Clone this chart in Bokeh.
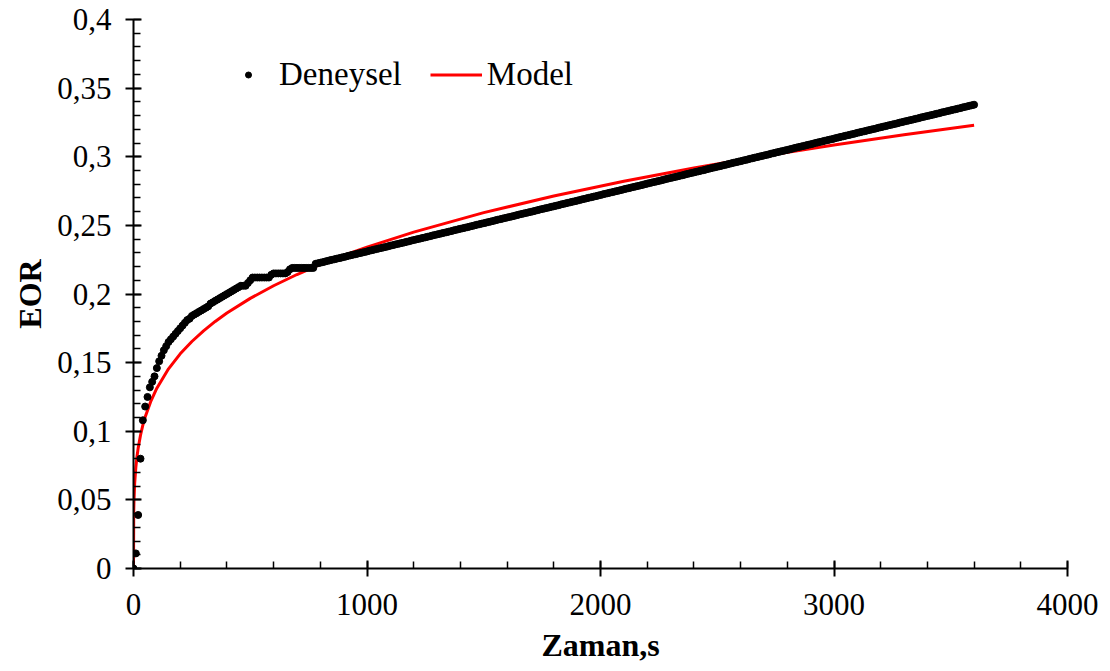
from bokeh.plotting import figure
from bokeh.models import Range1d, FixedTicker, Legend, LegendItem
from bokeh.embed import file_html
from bokeh.resources import INLINE

# ---- data -------------------------------------------------------------
# experimental samples, one every 10 s from 0 to 3600 s
zaman_s = list(range(0, 3610, 10))

# EOR, t = 0 ... 780 s
eor_early = [
    0.000, 0.011, 0.039, 0.080, 0.108, 0.118, 0.125, 0.132, 0.136, 0.140,
    0.146, 0.151, 0.155, 0.159, 0.162, 0.165, 0.167, 0.169, 0.171, 0.173,
    0.175, 0.177, 0.179, 0.181, 0.182, 0.184, 0.185, 0.186, 0.187, 0.188,
    0.189, 0.190, 0.191, 0.193, 0.194, 0.195, 0.196, 0.197, 0.198, 0.199,
    0.200, 0.201, 0.202, 0.203, 0.204, 0.205, 0.206, 0.206, 0.206, 0.208,
    0.210, 0.212, 0.212, 0.212, 0.212, 0.212, 0.212, 0.212, 0.212, 0.214,
    0.215, 0.215, 0.215, 0.215, 0.215, 0.215, 0.216, 0.218, 0.219, 0.219,
    0.219, 0.219, 0.219, 0.219, 0.219, 0.219, 0.219, 0.219, 0.222,
]

# EOR, t = 790 ... 3600 s
eor_late = [
    0.2224, 0.2228, 0.2232, 0.2236, 0.2241, 0.2245, 0.2249, 0.2253, 0.2257, 0.2261,
    0.2265, 0.2269, 0.2273, 0.2278, 0.2282, 0.2286, 0.2290, 0.2294, 0.2298, 0.2302,
    0.2306, 0.2310, 0.2315, 0.2319, 0.2323, 0.2327, 0.2331, 0.2335, 0.2339, 0.2343,
    0.2347, 0.2352, 0.2356, 0.2360, 0.2364, 0.2368, 0.2372, 0.2376, 0.2380, 0.2384,
    0.2389, 0.2393, 0.2397, 0.2401, 0.2405, 0.2409, 0.2413, 0.2417, 0.2421, 0.2426,
    0.2430, 0.2434, 0.2438, 0.2442, 0.2446, 0.2450, 0.2454, 0.2458, 0.2463, 0.2467,
    0.2471, 0.2475, 0.2479, 0.2483, 0.2487, 0.2491, 0.2495, 0.2500, 0.2504, 0.2508,
    0.2512, 0.2516, 0.2520, 0.2524, 0.2528, 0.2532, 0.2537, 0.2541, 0.2545, 0.2549,
    0.2553, 0.2557, 0.2561, 0.2565, 0.2569, 0.2574, 0.2578, 0.2582, 0.2586, 0.2590,
    0.2594, 0.2598, 0.2602, 0.2606, 0.2611, 0.2615, 0.2619, 0.2623, 0.2627, 0.2631,
    0.2635, 0.2639, 0.2643, 0.2647, 0.2652, 0.2656, 0.2660, 0.2664, 0.2668, 0.2672,
    0.2676, 0.2680, 0.2684, 0.2689, 0.2693, 0.2697, 0.2701, 0.2705, 0.2709, 0.2713,
    0.2717, 0.2721, 0.2726, 0.2730, 0.2734, 0.2738, 0.2742, 0.2746, 0.2750, 0.2754,
    0.2758, 0.2763, 0.2767, 0.2771, 0.2775, 0.2779, 0.2783, 0.2787, 0.2791, 0.2795,
    0.2800, 0.2804, 0.2808, 0.2812, 0.2816, 0.2820, 0.2824, 0.2828, 0.2832, 0.2837,
    0.2841, 0.2845, 0.2849, 0.2853, 0.2857, 0.2861, 0.2865, 0.2869, 0.2874, 0.2878,
    0.2882, 0.2886, 0.2890, 0.2894, 0.2898, 0.2902, 0.2906, 0.2911, 0.2915, 0.2919,
    0.2923, 0.2927, 0.2931, 0.2935, 0.2939, 0.2943, 0.2948, 0.2952, 0.2956, 0.2960,
    0.2964, 0.2968, 0.2972, 0.2976, 0.2980, 0.2985, 0.2989, 0.2993, 0.2997, 0.3001,
    0.3005, 0.3009, 0.3013, 0.3017, 0.3022, 0.3026, 0.3030, 0.3034, 0.3038, 0.3042,
    0.3046, 0.3050, 0.3054, 0.3058, 0.3063, 0.3067, 0.3071, 0.3075, 0.3079, 0.3083,
    0.3087, 0.3091, 0.3095, 0.3100, 0.3104, 0.3108, 0.3112, 0.3116, 0.3120, 0.3124,
    0.3128, 0.3132, 0.3137, 0.3141, 0.3145, 0.3149, 0.3153, 0.3157, 0.3161, 0.3165,
    0.3169, 0.3174, 0.3178, 0.3182, 0.3186, 0.3190, 0.3194, 0.3198, 0.3202, 0.3206,
    0.3211, 0.3215, 0.3219, 0.3223, 0.3227, 0.3231, 0.3235, 0.3239, 0.3243, 0.3248,
    0.3252, 0.3256, 0.3260, 0.3264, 0.3268, 0.3272, 0.3276, 0.3280, 0.3285, 0.3289,
    0.3293, 0.3297, 0.3301, 0.3305, 0.3309, 0.3313, 0.3317, 0.3322, 0.3326, 0.3330,
    0.3334, 0.3338, 0.3342, 0.3346, 0.3350, 0.3354, 0.3359, 0.3363, 0.3367, 0.3371,
    0.3375, 0.3379,
]
deneysel_eor = eor_early + eor_late

# model curve
model_t = [0, 1, 2, 5, 10, 15, 20, 30, 40, 50, 75, 100, 150, 200, 250, 300, 350,
           400, 500, 600, 700, 800, 900, 1000, 1200, 1500, 1800, 2100, 2400,
           2700, 3000, 3300, 3600]
model_eor = [0.0, 0.0414, 0.0492, 0.0620, 0.0737, 0.0816, 0.0877, 0.0971, 0.1044,
             0.1104, 0.1222, 0.1314, 0.1455, 0.1564, 0.1654, 0.1731, 0.1800,
             0.1861, 0.1968, 0.2060, 0.2142, 0.2215, 0.2281, 0.2342, 0.2451,
             0.2593, 0.2714, 0.2822, 0.2918, 0.3005, 0.3085, 0.3161, 0.3230]

# axis ticks and labels
x_ticks = [0, 1000, 2000, 3000, 4000]
x_minor = [0, 200, 400, 600, 800, 1000, 1200, 1400, 1600, 1800, 2000, 2200, 2400,
           2600, 2800, 3000, 3200, 3400, 3600, 3800, 4000]
y_ticks = [0.0, 0.05, 0.1, 0.15, 0.2, 0.25, 0.3, 0.35, 0.4]
y_tick_labels = ["0", "0,05", "0,1", "0,15", "0,2", "0,25", "0,3", "0,35", "0,4"]
y_minor = [0.0, 0.01, 0.02, 0.03, 0.04, 0.05, 0.06, 0.07, 0.08, 0.09, 0.1, 0.11,
           0.12, 0.13, 0.14, 0.15, 0.16, 0.17, 0.18, 0.19, 0.2, 0.21, 0.22, 0.23,
           0.24, 0.25, 0.26, 0.27, 0.28, 0.29, 0.3, 0.31, 0.32, 0.33, 0.34, 0.35,
           0.36, 0.37, 0.38, 0.39, 0.4]

# ---- figure -----------------------------------------------------------
FONT = "Liberation Serif"

p = figure(width=1110, height=671,
           x_range=Range1d(0, 4000), y_range=Range1d(0, 0.4),
           output_backend="svg", toolbar_location=None,
           min_border_left=133, min_border_right=43,
           min_border_top=19, min_border_bottom=103)

p.xgrid.visible = False
p.ygrid.visible = False
p.outline_line_color = None
p.background_fill_color = "white"
p.border_fill_color = "white"

r_model = p.line(model_t, model_eor, line_color="#ff0000", line_width=3)
r_exp = p.scatter(zaman_s, deneysel_eor, size=7, fill_color="black",
                  line_color="black")

p.xaxis.ticker = FixedTicker(ticks=x_ticks, minor_ticks=x_minor)
p.yaxis.ticker = FixedTicker(ticks=y_ticks, minor_ticks=y_minor)
p.yaxis.major_label_overrides = {v: s for v, s in zip(y_ticks, y_tick_labels)}

p.xaxis.axis_label = "Zaman,s"
p.yaxis.axis_label = "EOR"

for ax in (p.xaxis[0], p.yaxis[0]):
    ax.axis_line_color = "black"
    ax.axis_line_width = 2
    ax.major_tick_line_color = "black"
    ax.major_tick_line_width = 2
    ax.minor_tick_line_color = "black"
    ax.minor_tick_line_width = 1.5
    ax.major_tick_in = 8
    ax.major_tick_out = 8
    ax.minor_tick_in = 7
    ax.minor_tick_out = 0
    ax.major_label_text_font = FONT
    ax.major_label_text_font_size = "31px"
    ax.major_label_text_color = "black"
    ax.axis_label_text_font = FONT
    ax.axis_label_text_font_size = "32px"
    ax.axis_label_text_font_style = "bold"
    ax.axis_label_text_color = "black"

p.xaxis.major_label_standoff = 17
p.xaxis.axis_label_standoff = 9
p.yaxis.major_label_standoff = 14
p.yaxis.axis_label_standoff = 6

legend = Legend(
    items=[LegendItem(label="Deneysel", renderers=[r_exp]),
           LegendItem(label="Model", renderers=[r_model])],
    orientation="horizontal",
    location=(89, 475),
    glyph_width=52, glyph_height=15, label_height=30,
    label_standoff=5, spacing=28, padding=0, margin=0,
    border_line_color=None, background_fill_alpha=0,
    label_text_font=FONT, label_text_font_size="33px",
    label_text_color="black",
)
p.add_layout(legend)

open("out.html", "w").write(file_html(p, INLINE))
